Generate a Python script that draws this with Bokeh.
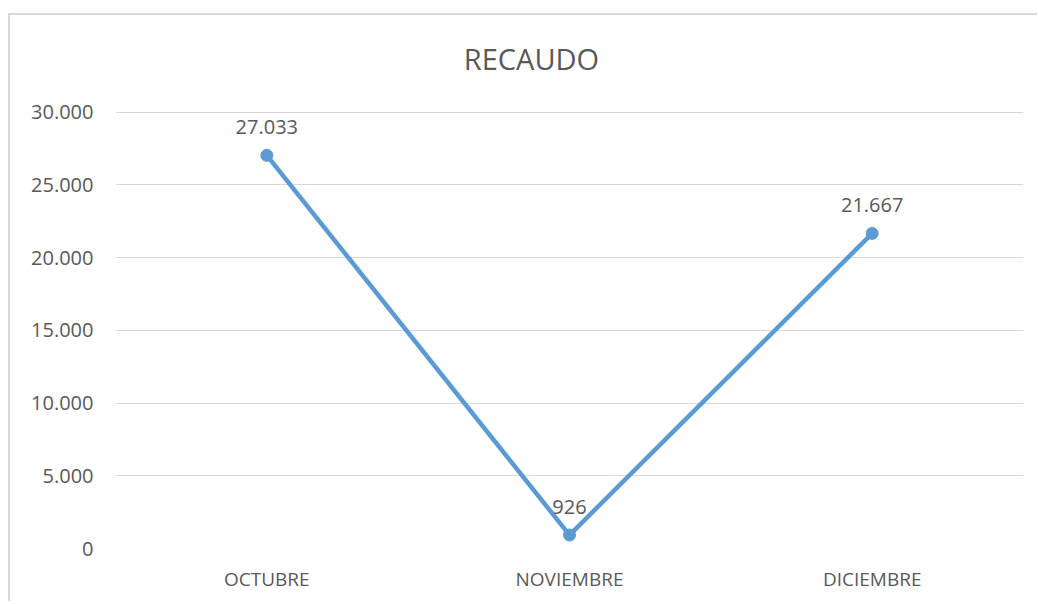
from bokeh.plotting import figure
from bokeh.models import ColumnDataSource, FixedTicker, Label
from bokeh.core.properties import value
from bokeh.embed import file_html
from bokeh.resources import INLINE

months = ["OCTUBRE", "NOVIEMBRE", "DICIEMBRE"]
recaudo = [27033, 926, 21667]
value_labels = ["27.033", "926", "21.667"]
y_ticks = [0, 5000, 10000, 15000, 20000, 25000, 30000]
y_tick_labels = ["0", "5.000", "10.000", "15.000", "20.000", "25.000", "30.000"]
title_text = "RECAUDO"

FONT = "Open Sans"
TXT = "#595959"
GRID = "#d9d9d9"
LINE = "#5B9BD5"

src = ColumnDataSource(dict(x=months, y=recaudo, lab=value_labels))

# y range extends above the top gridline so the title sits inside the frame
p = figure(x_range=months, y_range=(0, 35000), width=1029, height=588,
           output_backend="svg", toolbar_location=None,
           min_border_left=105, min_border_right=16, min_border_top=24, min_border_bottom=55)
p.margin = (13, 0, 0, 8)
p.styles = {"border-left": "2px solid #d9d9d9", "border-top": "2px solid #d9d9d9"}
p.outline_line_color = None
p.background_fill_color = "white"
p.border_fill_color = "white"

p.xgrid.grid_line_color = None
p.ygrid.grid_line_color = GRID
p.ygrid.grid_line_width = 1

p.yaxis.ticker = FixedTicker(ticks=y_ticks)
p.yaxis.major_label_overrides = {t: l for t, l in zip(y_ticks, y_tick_labels)}
for ax in (p.xaxis[0], p.yaxis[0]):
    ax.axis_line_color = None
    ax.major_tick_line_color = None
    ax.minor_tick_line_color = None
    ax.major_label_text_font = FONT
    ax.major_label_text_color = TXT
p.yaxis.major_label_text_font_size = "20px"
p.yaxis.major_label_standoff = 16
p.xaxis.major_label_text_font_size = "19px"
p.xaxis.major_label_standoff = 11

p.line("x", "y", source=src, line_color=LINE, line_width=4.5)
p.scatter("x", "y", source=src, size=12, fill_color=LINE, line_color=LINE)
p.text("x", "y", text="lab", source=src, text_font=value(FONT), text_font_size="20px",
       text_color=TXT, text_align="center", text_baseline="middle", y_offset=-28)

t = Label(x=416, y=490, x_units="screen", y_units="screen", text=title_text,
          text_font=FONT, text_font_size="29px", text_color=TXT,
          text_align="center", text_baseline="middle")
p.add_layout(t)

open("out.html", "w").write(file_html(p, INLINE))
